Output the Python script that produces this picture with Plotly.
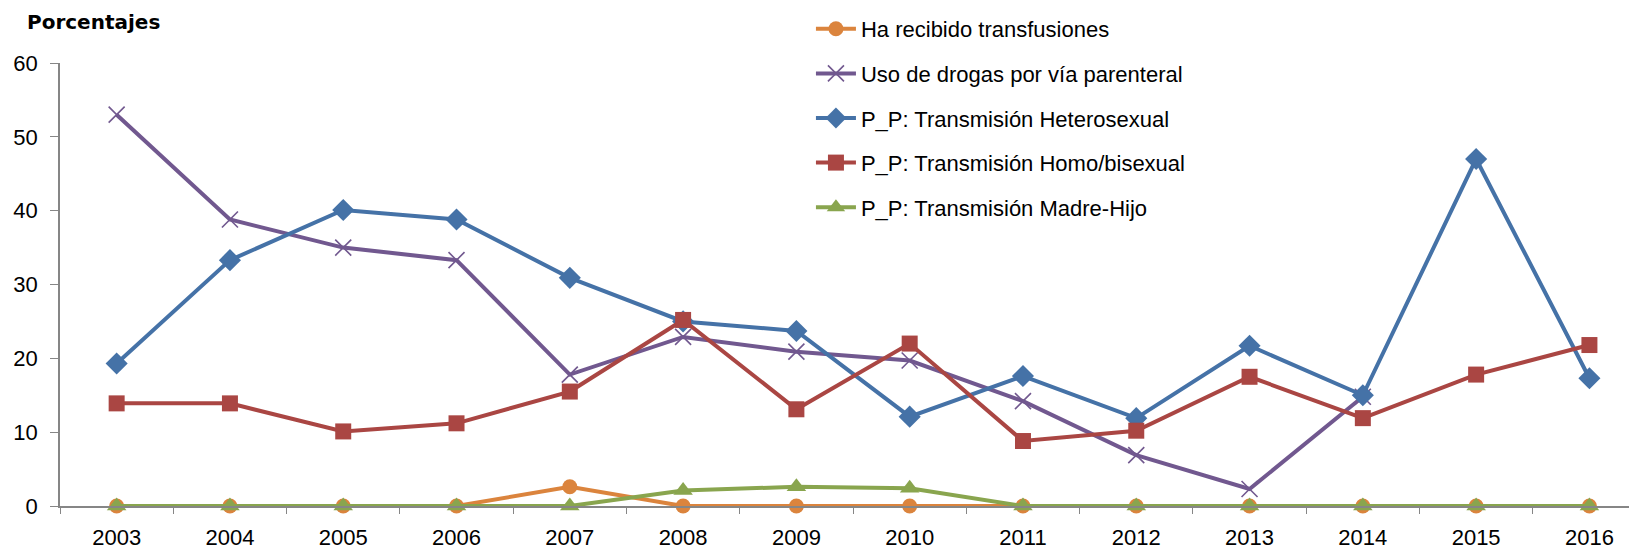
import plotly.graph_objects as go

years = ["2003", "2004", "2005", "2006", "2007", "2008", "2009", "2010",
         "2011", "2012", "2013", "2014", "2015", "2016"]

transfusiones = [0, 0, 0, 0, 2.6, 0, 0, 0, 0, 0, 0, 0, 0, 0]
drogas = [53.0, 38.8, 35.0, 33.3, 17.8, 22.9, 20.9, 19.7, 14.2, 6.9, 2.3, 14.8, None, None]
hetero = [19.3, 33.3, 40.1, 38.8, 30.9, 25.0, 23.7, 12.1, 17.6, 11.9, 21.7, 15.0, 47.0, 17.3]
homo = [13.9, 13.9, 10.1, 11.2, 15.5, 25.2, 13.1, 22.0, 8.8, 10.2, 17.5, 11.9, 17.8, 21.8]
madre_hijo = [0, 0, 0, 0, 0, 2.1, 2.6, 2.4, 0, 0, 0, 0, 0, 0]

names = ["Ha recibido transfusiones", "Uso de drogas por vía parenteral",
         "P_P: Transmisión Heterosexual", "P_P: Transmisión Homo/bisexual",
         "P_P: Transmisión Madre-Hijo"]
colors = ["#DB843D", "#71588F", "#4572A7", "#AA4643", "#89A54E"]

FONT = "Liberation Sans, Arial, sans-serif"

fig = go.Figure()
series = [transfusiones, drogas, hetero, homo, madre_hijo]
markers = [
    dict(symbol="circle", size=15),
    dict(symbol="x-thin", size=16, line=dict(width=1.6, color=colors[1])),
    dict(symbol="diamond", size=17),
    dict(symbol="square", size=16),
    dict(symbol="triangle-up", size=17),
]
for i, (nm, ys, col, mk) in enumerate(zip(names, series, colors, markers)):
    m = dict(mk)
    m["color"] = col
    fig.add_trace(go.Scatter(
        x=years, y=ys, name=nm, mode="lines+markers",
        line=dict(color=col, width=4),
        marker=m, cliponaxis=False, legendgroup=f"g{i}",
        connectgaps=False,
    ))

fig.update_layout(
    width=1637, height=546,
    margin=dict(l=52, r=8, t=55, b=48, autoexpand=False),
    paper_bgcolor="white", plot_bgcolor="white",
    font=dict(family=FONT, size=22, color="black"),
    showlegend=True,
    legend=dict(
        x=0.4905, y=1.0, xref="container", yref="container",
        xanchor="left", yanchor="top",
        traceorder="grouped", tracegroupgap=13,
        font=dict(family=FONT, size=22, color="black"),
        bgcolor="rgba(0,0,0,0)", itemwidth=40,
    ),
    xaxis=dict(
        type="category", range=[-0.5, 13.42],
        showline=True, linecolor="#868686", linewidth=1.5,
        ticks="outside", tickson="boundaries", ticklen=6, tickcolor="#868686",
        ticklabelstandoff=11,
        showgrid=False, zeroline=False,
        tickfont=dict(family=FONT, size=22, color="black"),
    ),
    yaxis=dict(
        range=[0, 60], dtick=10,
        showline=True, linecolor="#868686", linewidth=1.5,
        ticks="outside", ticklen=8, tickcolor="#868686",
        ticklabelstandoff=8,
        showgrid=False, zeroline=False,
        tickfont=dict(family=FONT, size=22, color="black"),
    ),
    annotations=[dict(
        text="<b>Porcentajes</b>", xref="paper", yref="paper",
        x=-0.0222, y=1.0934, xanchor="left", yanchor="middle",
        showarrow=False, font=dict(family="DejaVu Sans, sans-serif", size=20, color="black"),
    )],
)

fig.write_html("out.html")
